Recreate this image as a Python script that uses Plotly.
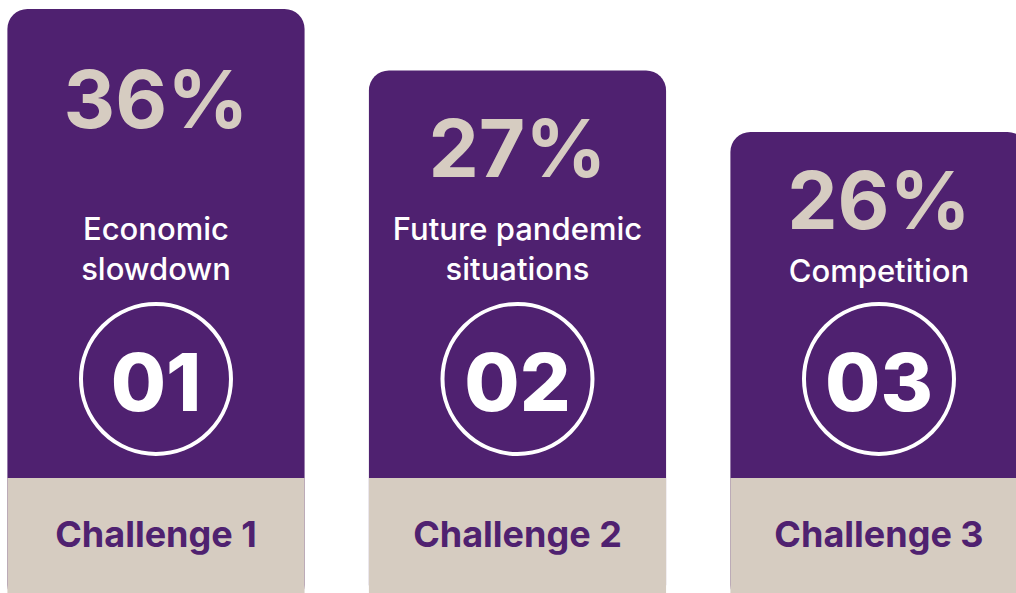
import plotly.graph_objects as go

# data
challenges = ['Challenge 1', 'Challenge 2', 'Challenge 3']
shares = [36, 27, 26]
issues = ['Economic<br>slowdown', 'Future pandemic<br>situations', 'Competition']
numbers = ['01', '02', '03']

PURPLE = '#4F2170'
BEIGE = '#D6CCC1'
FONT = 'Inter'

# y axis runs in pixels, 0 at the bottom edge of the page
FOOT = 115                     # beige footer height
BELOW = 12                     # bars start below the page so the bottom edge stays square
ranks = [sorted(shares, reverse=True).index(s) for s in shares]
col_height = [469 - 61.5 * r for r in ranks]   # stepped columns by rank

pct_y = [485, 436, 384]
issue_y = [341, 341, 319]
ring_y = 214
num_y = 202
label_y = 55

fig = go.Figure()

# purple column with rounded top (bottom hidden under the footer)
fig.add_trace(go.Bar(
    x=challenges, y=[FOOT + h + BELOW for h in col_height], base=-BELOW,
    marker=dict(color=PURPLE, line=dict(width=0), cornerradius=20),
    hoverinfo='skip'
))

# beige footer
fig.add_trace(go.Bar(
    x=challenges, y=[FOOT + BELOW] * 3, base=-BELOW,
    marker=dict(color=BEIGE, line=dict(width=0)),
    hoverinfo='skip'
))

# percentages
fig.add_trace(go.Scatter(
    x=challenges, y=pct_y, mode='text',
    text=[f'{s}%' for s in shares],
    textposition='middle center',
    textfont=dict(family=FONT, size=80, color=BEIGE, weight=700),
    hoverinfo='skip'
))

# challenge description
fig.add_trace(go.Scatter(
    x=challenges, y=issue_y, mode='text',
    text=issues,
    textposition='middle center',
    textfont=dict(family=FONT, size=31, color='white', weight=500),
    hoverinfo='skip'
))

# numbered rings
fig.add_trace(go.Scatter(
    x=challenges, y=[ring_y] * 3, mode='markers',
    marker=dict(symbol='circle-open', size=150, color='white',
                line=dict(width=4, color='white')),
    hoverinfo='skip'
))
fig.add_trace(go.Scatter(
    x=challenges, y=[num_y] * 3, mode='text',
    text=numbers,
    textposition='middle center',
    textfont=dict(family=FONT, size=80, color='white', weight=800),
    hoverinfo='skip'
))

# footer labels
fig.add_trace(go.Scatter(
    x=challenges, y=[label_y] * 3, mode='text',
    text=challenges,
    textposition='middle center',
    textfont=dict(family=FONT, size=36, color=PURPLE, weight=700),
    hoverinfo='skip'
))

fig.update_layout(
    width=1016, height=593,
    margin=dict(l=0, r=0, t=0, b=0),
    paper_bgcolor='white', plot_bgcolor='white',
    barmode='overlay', bargap=0.178,
    showlegend=False,
    xaxis=dict(range=[-0.4315, 2.379], visible=False, fixedrange=True),
    yaxis=dict(range=[0, 593], visible=False, fixedrange=True),
)

fig.write_html(
    "out.html",
    config={'displayModeBar': False, 'staticPlot': True},
    post_script="document.body.style.margin='0';document.body.style.overflow='hidden';",
)
